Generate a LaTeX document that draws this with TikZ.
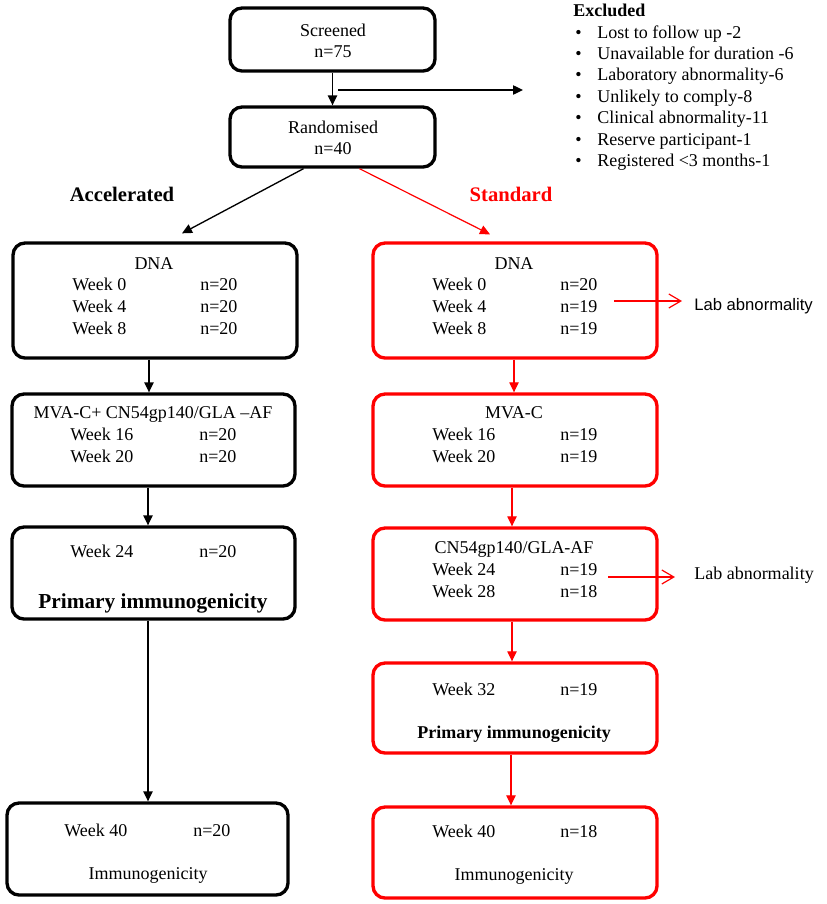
\documentclass[tikz,border=0pt]{standalone}
\usepackage{fontspec}
\setmainfont{Liberation Serif}
\newfontfamily\arialfont{Liberation Sans}
\usetikzlibrary{arrows.meta,calc}
\begin{document}
\begin{tikzpicture}[x=0.75pt,y=-0.75pt,
  box/.style={draw,rounded corners=9pt,line width=2.5pt,inner sep=0pt},
  redbox/.style={box,draw=red},
  txt/.style={inner sep=0pt,anchor=base west,font=\fontsize{13.5}{16}\selectfont},
  ctxt/.style={txt,anchor=base},
  bigbold/.style={ctxt,font=\fontsize{15.5}{18}\selectfont\bfseries},
  arr/.style={line width=1pt,-{Triangle[length=7.5pt,width=7pt]}},
  rarr/.style={arr,color=red,line width=0.9pt},
  barb/.style={line width=0.9pt,color=red,-{Straight Barb[length=9pt,width=10.5pt]}}
]
\path[use as bounding box,fill=white] (0,0) rectangle (827,904);

% top boxes
\node[box,minimum width=153.75pt,minimum height=47.25pt] (scr) at (332.5,39.5) {};
\node[box,minimum width=153.75pt,minimum height=45pt] (rand) at (332.5,137) {};
\node[ctxt] (scrt1) at (333,36) {Screened};
\node[ctxt] (scrt2) at (333,57) {n=75};
\node[ctxt] (rant1) at (333,133) {Randomised};
\node[ctxt] (rant2) at (333,154) {n=40};

\draw[arr] (scr.south) -- (rand.north);
\coordinate (exs) at (338,90);
\coordinate (exe) at (523,90);
\draw[arr] (exs) -- (exe);

% excluded list
\node[txt,font=\fontsize{13.5}{16}\selectfont\bfseries] (exh) at (573,16) {Excluded};
\foreach \y/\t [count=\i] in {38/Lost to follow up -2,59/Unavailable for duration -6,80/Laboratory abnormality-6,102/Unlikely to comply-8,123/Clinical abnormality-11,145/Reserve participant-1,166/Registered <3 months-1}{
  \node[txt] (exb\i) at (575,\y) {\textbullet};
  \node[txt] (ext\i) at (597,\y) {\t};
}

% arm titles
\node[bigbold] (acc) at (122,201) {Accelerated};
\node[bigbold,text=red] (std) at (511,201) {Standard};

% left column boxes
\node[box,minimum width=213pt,minimum height=86.25pt] (ldna) at (155,300.5) {};
\node[box,minimum width=212.25pt,minimum height=69pt] (lmva) at (153.5,440) {};
\node[box,minimum width=212.25pt,minimum height=69pt] (lw24) at (153.5,573) {};
\node[box,minimum width=210.75pt,minimum height=69pt] (lw40) at (147.5,849) {};

% right column boxes
\node[redbox,minimum width=213pt,minimum height=86.25pt] (rdna) at (515,300.5) {};
\node[redbox,minimum width=213pt,minimum height=69pt] (rmva) at (515,440) {};
\node[redbox,minimum width=213pt,minimum height=69pt] (rcn) at (515,574) {};
\node[redbox,minimum width=213pt,minimum height=67.5pt] (rw32) at (515,708) {};
\node[redbox,minimum width=213pt,minimum height=68.25pt] (rw40) at (515,852.5) {};

% left texts
\node[ctxt] (ldt) at (154,269) {DNA};
\node[txt] (ldw0) at (72,290) {Week 0};  \node[txt] (ldn0) at (200,290) {n=20};
\node[txt] (ldw4) at (72,312) {Week 4};  \node[txt] (ldn4) at (200,312) {n=20};
\node[txt] (ldw8) at (72,334) {Week 8};  \node[txt] (ldn8) at (200,334) {n=20};

\node[ctxt] (lmt) at (153,418) {MVA-C+ CN54gp140/GLA –AF};
\node[txt] (lmw16) at (70,440) {Week 16}; \node[txt] (lmn16) at (199,440) {n=20};
\node[txt] (lmw20) at (70,462) {Week 20}; \node[txt] (lmn20) at (199,462) {n=20};

\node[txt] (l24w) at (70,557) {Week 24}; \node[txt] (l24n) at (199,557) {n=20};
\node[ctxt,font=\fontsize{16}{19}\selectfont\bfseries] (l24p) at (153,608) {Primary immunogenicity};

\node[txt] (l40w) at (64,836) {Week 40}; \node[txt] (l40n) at (193,836) {n=20};
\node[ctxt] (l40i) at (148,879) {Immunogenicity};

% right texts
\node[ctxt] (rdt) at (514,269) {DNA};
\node[txt] (rdw0) at (432,290) {Week 0};  \node[txt] (rdn0) at (560,290) {n=20};
\node[txt] (rdw4) at (432,312) {Week 4};  \node[txt] (rdn4) at (560,312) {n=19};
\node[txt] (rdw8) at (432,334) {Week 8};  \node[txt] (rdn8) at (560,334) {n=19};

\node[ctxt] (rmt) at (514,418) {MVA-C};
\node[txt] (rmw16) at (432,440) {Week 16}; \node[txt] (rmn16) at (560,440) {n=19};
\node[txt] (rmw20) at (432,462) {Week 20}; \node[txt] (rmn20) at (560,462) {n=19};

\node[ctxt] (rct) at (514,553) {CN54gp140/GLA-AF};
\node[txt] (rcw24) at (432,575) {Week 24}; \node[txt] (rcn24) at (560,575) {n=19};
\node[txt] (rcw28) at (432,597) {Week 28}; \node[txt] (rcn28) at (560,597) {n=18};

\node[txt] (r32w) at (432,695) {Week 32}; \node[txt] (r32n) at (560,695) {n=19};
\node[ctxt,font=\fontsize{13.5}{16}\selectfont\bfseries] (r32p) at (514,738) {Primary immunogenicity};

\node[txt] (r40w) at (432,837) {Week 40}; \node[txt] (r40n) at (560,837) {n=18};
\node[ctxt] (r40i) at (514,880) {Immunogenicity};

% lab abnormality
\node[txt,font=\arialfont\fontsize{12.5}{15}\selectfont] (lab1) at (694,310) {Lab abnormality};
\coordinate (lab1s) at (614,301);
\coordinate (lab1e) at (682,301);
\draw[barb] (lab1s) -- (lab1e);
\node[txt] (lab2) at (694,579) {Lab abnormality};
\coordinate (lab2s) at (608,577);
\coordinate (lab2e) at (675,577);
\draw[barb] (lab2s) -- (lab2e);

% connectors
\draw[arr] ($(rand.south)+(-29,0)$) -- ($(ldna.north)+(27,-8)$);
\draw[rarr] ($(rand.south)+(27,0)$) -- ($(rdna.north)+(-25,-7)$);

\draw[arr] ($(ldna.south)+(-6,0)$) -- ($(lmva.north)+(-4.5,0)$);
\draw[arr] ($(lmva.south)+(-5.5,0)$) -- ($(lw24.north)+(-5.5,0)$);
\draw[arr] ($(lw24.south)+(-5.5,0)$) -- ($(lw40.north)+(0.5,0)$);

\draw[rarr] ($(rdna.south)+(-1,0)$) -- ($(rmva.north)+(-1,0)$);
\draw[rarr] ($(rmva.south)+(-3,0)$) -- ($(rcn.north)+(-3,0)$);
\draw[rarr] ($(rcn.south)+(-3,0)$) -- ($(rw32.north)+(-3,0)$);
\draw[rarr] ($(rw32.south)+(-4,0)$) -- ($(rw40.north)+(-4,0)$);
\end{tikzpicture}
\end{document}
